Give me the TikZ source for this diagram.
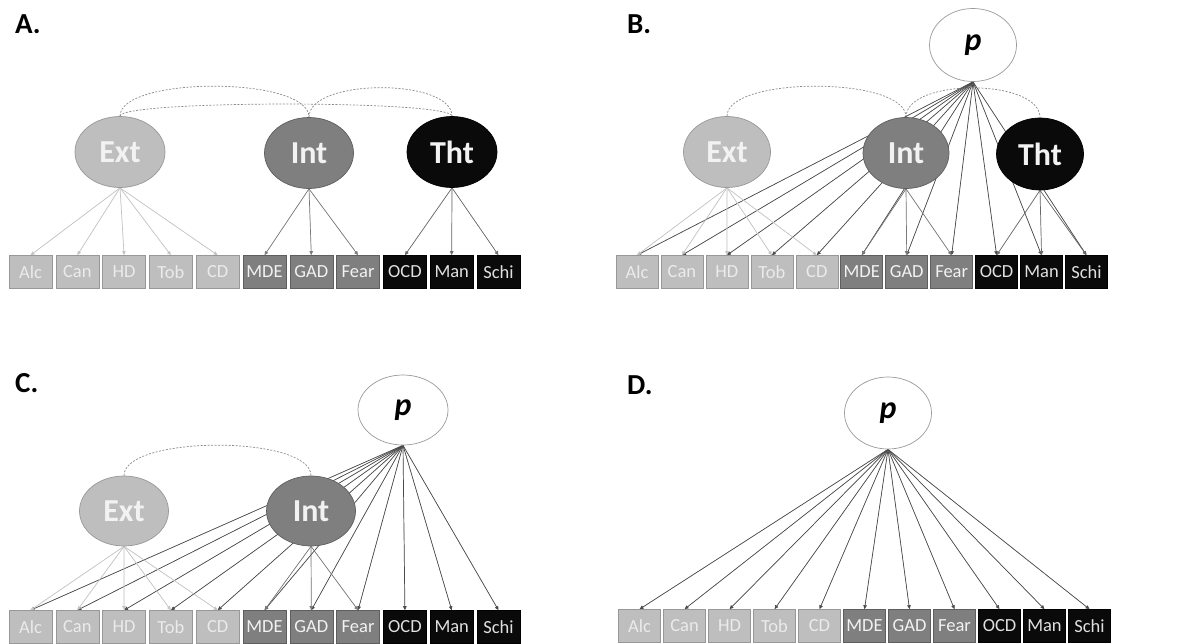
\documentclass[tikz,border=0pt]{standalone}
\usepackage{fontspec}
\setmainfont{Carlito}
\usetikzlibrary{arrows.meta,shapes.geometric}

\definecolor{extfill}{HTML}{BEBEBE}
\definecolor{extedge}{HTML}{989898}
\definecolor{intfill}{HTML}{7F7F7F}
\definecolor{intedge}{HTML}{5E5E5E}
\definecolor{thtfill}{HTML}{0A0A0A}
\definecolor{pedge}{HTML}{9A9A9A}
\definecolor{extline}{HTML}{C4C4C4}
\definecolor{intline}{HTML}{7A7A7A}
\definecolor{thtline}{HTML}{6A6A6A}
\definecolor{pline}{HTML}{4A4A4A}
\definecolor{covline}{HTML}{8A8A8A}

\pgfdeclarelayer{bg}
\pgfsetlayers{bg,main}

\tikzset{
  panel/.style={anchor=west, inner sep=0pt, font=\fontsize{29}{29}\selectfont\bfseries},
  latent/.style={ellipse, inner sep=0pt, minimum width=89pt, minimum height=71pt,
    font=\fontsize{32}{32}\selectfont\bfseries, text=white!95!black, line width=0.7pt},
  latE/.style={latent, fill=extfill, draw=extedge},
  latI/.style={latent, fill=intfill, draw=intedge},
  latT/.style={latent, fill=thtfill, draw=black},
  latP/.style={latent, fill=white, draw=pedge, text=black,
    font=\fontsize{32}{32}\selectfont\bfseries\itshape},
  obs/.style={rectangle, inner sep=0pt, minimum height=33pt, line width=0.6pt,
    font=\fontsize{18.5}{18.5}\selectfont},
  obsE/.style={obs, fill=extfill, draw=extedge, text=white!92!black},
  obsI/.style={obs, fill=intfill, draw=intedge, text=white!95!black},
  obsT/.style={obs, fill=thtfill, draw=black, text=white!88!black},
  load/.style={line width=0.7pt, -{Triangle[length=4pt,width=3.5pt]}},
  ldE/.style={load, draw=extline, fill=extline},
  ldI/.style={load, draw=intline, fill=intline},
  ldT/.style={load, draw=thtline, fill=thtline},
  ldP/.style={load, draw=pline, fill=pline},
  cov/.style={draw=covline, line width=0.7pt, dash pattern=on 2pt off 1.5pt},
}

% one row of eleven indicator boxes: prefix, first x, pitch, y, box width
\newcommand\indicatorrow[5]{%
  \foreach \lab/\sty [count=\i] in {Alc/obsE,Can/obsE,HD/obsE,Tob/obsE,CD/obsE,
      MDE/obsI,GAD/obsI,Fear/obsI,OCD/obsT,Man/obsT,Schi/obsT}
    \node[\sty, minimum width=#5] (#1\i) at ({#2+(\i-1)*#3}, #4) {\lab};%
}

\begin{document}
\begin{tikzpicture}[x=1pt, y=-1pt]
\useasboundingbox (0,0) rectangle (1177,643);

% ---------------- A: correlated factors ----------------
\node[panel] (labA) at (15,24) {A.};
\node[latE, minimum width=90pt] (aExt) at (120,152) {Ext};
\node[latI] (aInt) at (309,153) {Int};
\node[latT, minimum width=90pt] (aTht) at (452,152) {Tht};
\indicatorrow{a}{30.5}{46.8}{272}{43pt}
\begin{pgfonlayer}{bg}
  \draw[cov] (aExt.north) .. controls (120,76) and (309,76) .. (aInt.north);
  \draw[cov] (aInt.north) .. controls (309,78) and (452,78) .. (aTht.north);
  \draw[cov] (aExt.north) .. controls (120,100) and (452,100) .. (aTht.north);
  \foreach \i in {1,...,5} \draw[ldE] (aExt.south) -- (a\i.north);
  \foreach \i in {6,7,8} \draw[ldI] (aInt.south) -- (a\i.north);
  \foreach \i in {9,10,11} \draw[ldT] (aTht.south) -- (a\i.north);
\end{pgfonlayer}

% ---------------- B: bifactor with three specific factors ----------------
\node[panel] (labB) at (627,24) {B.};
\node[latP, minimum width=87pt, minimum height=73pt] (bP) at (973,45) {p};
\node[latE, minimum width=87pt] (bExt) at (727,152) {Ext};
\node[latI, minimum width=86pt] (bInt) at (906,153) {Int};
\node[latT, minimum width=87pt, minimum height=72pt] (bTht) at (1040,154) {Tht};
\indicatorrow{b}{637}{44.95}{272}{42pt}
\begin{pgfonlayer}{bg}
  \draw[cov] (bExt.north) .. controls (727,76) and (906,76) .. (bInt.north);
  \draw[cov] (bInt.north) .. controls (906,78) and (1040,78) .. (bTht.north);
  \foreach \i in {1,...,11} \draw[ldP] (bP.south) -- (b\i.north);
  \foreach \i in {1,...,5} \draw[ldE] (bExt.south) -- (b\i.north);
  \foreach \i in {6,7,8} \draw[ldI] (bInt.south) -- (b\i.north);
  \foreach \i in {9,10,11} \draw[ldT] (bTht.south) -- (b\i.north);
\end{pgfonlayer}

% ---------------- C: bifactor with two specific factors ----------------
\node[panel] (labC) at (15,383) {C.};
\node[latP, minimum width=90pt, minimum height=70pt] (cP) at (403,410) {p};
\node[latE, minimum height=70pt] (cExt) at (124,511) {Ext};
\node[latI, minimum height=70pt] (cInt) at (311,511) {Int};
\indicatorrow{c}{30.5}{46.8}{627}{43pt}
\begin{pgfonlayer}{bg}
  \draw[cov] (cExt.north) .. controls (124,435) and (311,435) .. (cInt.north);
  \foreach \i in {1,...,11} \draw[ldP] (cP.south) -- (c\i.north);
  \foreach \i in {1,...,5} \draw[ldE] (cExt.south) -- (c\i.north);
  \foreach \i in {6,7,8} \draw[ldI] (cInt.south) -- (c\i.north);
\end{pgfonlayer}

% ---------------- D: single general factor ----------------
\node[panel] (labD) at (627,385) {D.};
\node[latP, minimum width=87pt, minimum height=72pt] (dP) at (888,413) {p};
\indicatorrow{d}{639.5}{45}{626}{42pt}
\begin{pgfonlayer}{bg}
  \foreach \i in {1,...,11} \draw[ldP] (dP.south) -- (d\i.north);
\end{pgfonlayer}
\end{tikzpicture}
\end{document}
